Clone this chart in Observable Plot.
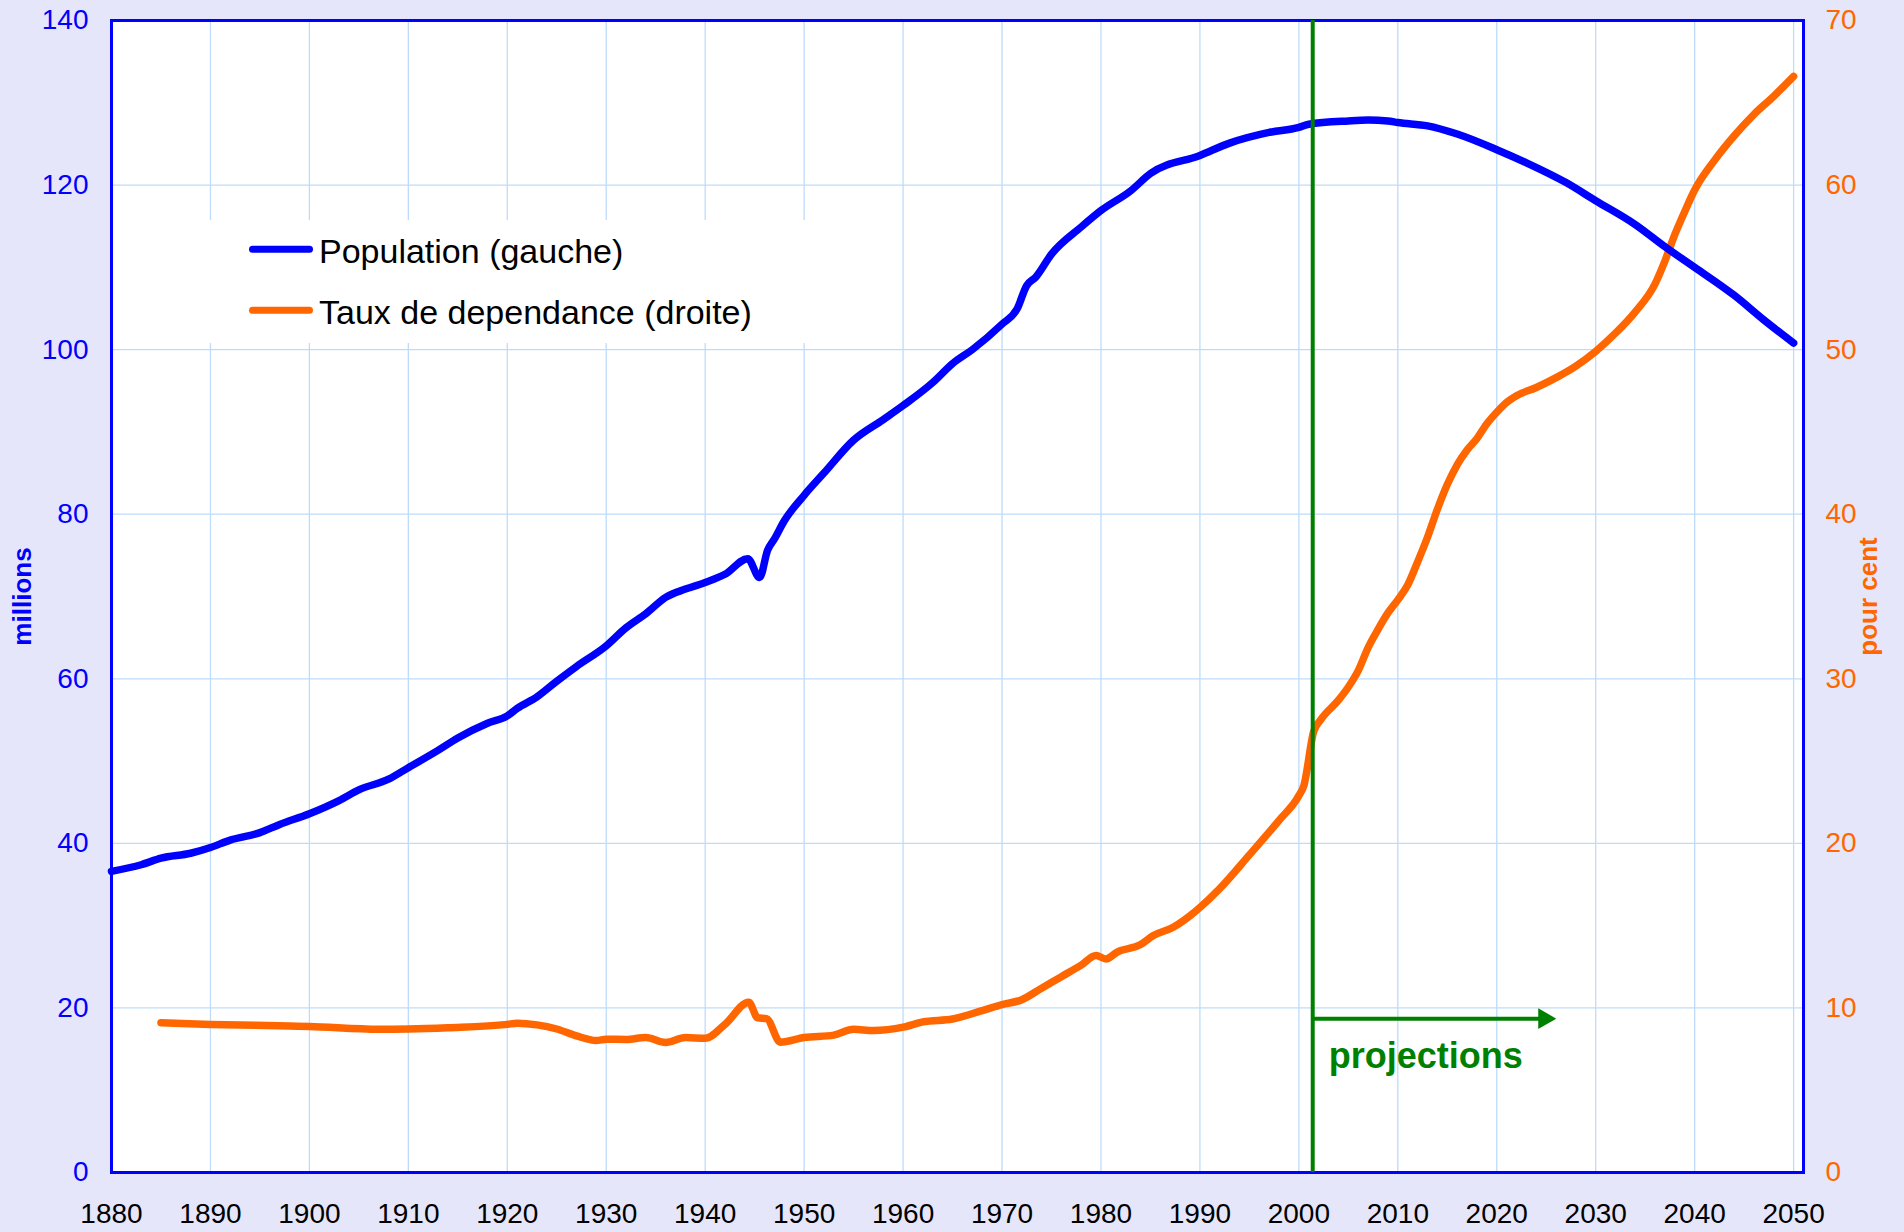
<!DOCTYPE html>
<html><head><meta charset="utf-8">
<script src="https://cdn.jsdelivr.net/npm/d3@7"></script>
<script src="https://cdn.jsdelivr.net/npm/@observablehq/plot@0.6"></script>
<style>
html,body{margin:0;padding:0;background:#E6E6FA;}
#chart{position:relative;width:1904px;height:1232px;font-family:"Liberation Sans",Arial,sans-serif;}
#legend{position:absolute;left:195px;top:220px;width:620px;height:123px;background:#ffffff;}
</style>
</head><body>
<div id="chart"></div>
<script>
// ---- data ----
const popYears = [1880,1883,1885,1888,1890,1892,1895,1897,1900,1903,1905,1908,1910,1913,1915,1918,1920,1921,1923,1925,1927,1930,1932,1934,1936,1938,1940,1942,1944.3,1945.5,1946.3,1947,1948,1950,1952,1955,1958,1960,1963,1965,1967,1970,1971.5,1972.5,1973.4,1975,1978,1980,1983,1985,1990,1993,1997,2000,2001,2005,2007,2009,2010,2013,2016,2020,2023,2027,2030,2034,2037,2040,2044,2047,2050];
const popValues = [36.6,37.4,38.2,38.8,39.5,40.4,41.3,42.3,43.6,45.2,46.5,47.8,49.2,51.3,52.8,54.6,55.5,56.4,57.8,59.7,61.5,64.0,66.2,67.9,69.9,70.9,71.7,72.7,74.6,72.3,75.6,77.0,79.2,82.3,85.0,89.0,91.5,93.2,96.0,98.3,100.0,103.1,104.9,107.8,108.8,111.6,114.9,116.9,119.3,121.4,123.6,125.1,126.4,127.0,127.4,127.8,127.9,127.8,127.6,127.2,126.2,124.3,122.7,120.3,118.1,115.2,112.5,110.0,106.6,103.6,100.8];

const tauxYears = [1885,1890,1898,1900,1907,1910,1914,1920,1921,1923,1925,1927,1929,1930,1932,1934,1936,1938,1940,1942,1944.4,1945.3,1946.2,1947.6,1950,1953,1955,1957,1960,1962,1965,1968,1970,1972,1974,1976,1978,1979.5,1980.5,1981.6,1984,1985.3,1987.3,1989,1990,1992,1995,1998,2000,2000.5,2001.5,2002.2,2004,2005,2006,2007,2008,2009,2010,2011,2012,2013,2014,2015,2016,2017,2018,2019,2020,2021,2022,2024,2026,2028,2030,2032,2034,2036,2037,2038,2039,2040,2042,2044,2046,2048,2050];
const tauxValues = [9.1,9.0,8.9,8.87,8.7,8.72,8.8,9.0,9.07,8.97,8.72,8.3,8.02,8.1,8.08,8.2,7.9,8.2,8.15,9.0,10.35,9.4,9.35,7.92,8.2,8.35,8.7,8.63,8.83,9.15,9.33,9.84,10.2,10.5,11.2,11.9,12.6,13.18,12.98,13.38,13.85,14.4,14.9,15.6,16.1,17.25,19.3,21.4,22.9,23.5,26.8,27.5,28.7,29.5,30.5,31.9,33.0,34.0,34.8,35.7,37.1,38.6,40.3,41.8,43.0,43.9,44.6,45.5,46.2,46.8,47.2,47.7,48.3,49.0,49.9,51.0,52.3,54.0,55.4,57.0,58.4,59.7,61.5,63.0,64.3,65.4,66.6];

const xTicks = [1880,1890,1900,1910,1920,1930,1940,1950,1960,1970,1980,1990,2000,2010,2020,2030,2040,2050];
const leftTicks = [0,20,40,60,80,100,120,140];
const rightTicks = [0,10,20,30,40,50,60,70];
const seriesNames = ["Population (gauche)", "Taux de dependance (droite)"];
const seriesColors = ["#0000FF", "#FF6600"];
const leftLabel = "millions";
const rightLabel = "pour cent";
const projectionStart = 2001.4;
const projectionArrowEnd = 2024.8;
const projectionArrowLevel = 18.7;   // on the left scale
const projectionLabel = "projections";

// ---- derived tables ----
const ratio = leftTicks[leftTicks.length-1] / rightTicks[rightTicks.length-1];
const pop = popYears.map((y,i)=>({year:y, value:popValues[i]}));
const taux = tauxYears.map((y,i)=>({year:y, value:tauxValues[i]*ratio}));
const proj = [{x1:projectionStart, x2:projectionArrowEnd, y:projectionArrowLevel}];

const font = '"Liberation Sans", Arial, sans-serif';
const gridColor = "#BEDCFA";

const plot = Plot.plot({
  width: 1904, height: 1232,
  marginLeft: 111, marginRight: 101, marginTop: 20, marginBottom: 60,
  style: {background: "transparent", fontFamily: font, fontSize: "28px"},
  x: {domain: [1880, 2051], label: null},
  y: {domain: [0, 140], label: null},
  marks: [
    Plot.frame({fill: "#ffffff", stroke: null}),
    Plot.gridX(xTicks, {stroke: gridColor, strokeOpacity: 1, strokeWidth: 1.3}),
    Plot.gridY(leftTicks.slice(1, -1), {stroke: gridColor, strokeOpacity: 1, strokeWidth: 1.3}),
    Plot.frame({stroke: "#0000FF", strokeWidth: 3}),
    Plot.axisX(xTicks, {tickSize: 0, tickPadding: 31, tickFormat: d => String(d), fontSize: 28, color: "#000000", fontFamily: font}),
    Plot.axisY(leftTicks, {anchor: "left", tickSize: 0, tickPadding: 23, fontSize: 28, color: "#0000FF", fontFamily: font}),
    Plot.axisY(leftTicks, {anchor: "right", tickSize: 0, tickPadding: 22, tickFormat: d => String(d / ratio), fontSize: 28, color: "#FF6600", fontFamily: font}),
    Plot.line(taux, {x: "year", y: "value", stroke: seriesColors[1], strokeWidth: 7.5, curve: "monotone-x", strokeLinecap: "round", strokeLinejoin: "round"}),
    Plot.line(pop, {x: "year", y: "value", stroke: seriesColors[0], strokeWidth: 7.5, curve: "monotone-x", strokeLinecap: "round", strokeLinejoin: "round"}),
    Plot.ruleX([projectionStart], {stroke: "#008000", strokeWidth: 4}),
    Plot.link(proj, {x1: "x1", x2: "x2", y1: "y", y2: "y", stroke: "#008000", strokeWidth: 4}),
    Plot.dot(proj, {x: "x2", y: "y", symbol: "triangle", r: 7.7, fill: "#008000", stroke: null, rotate: 90}),
    Plot.text(proj, {x: "x1", y: "y", text: () => projectionLabel, dx: 16, dy: 49, lineAnchor: "bottom", textAnchor: "start", fontSize: 36, fontWeight: "bold", fill: "#008000", fontFamily: font}),
    Plot.text([leftLabel], {frameAnchor: "left", text: d => d, rotate: -90, dx: -89.3, textAnchor: "middle", lineAnchor: "middle", fontSize: 26, fontWeight: "bold", fill: "#0000FF", fontFamily: font}),
    Plot.text([rightLabel], {frameAnchor: "right", text: d => d, rotate: -90, dx: 65, textAnchor: "middle", lineAnchor: "middle", fontSize: 26, fontWeight: "bold", fill: "#FF6600", fontFamily: font})
  ]
});
const chart = document.getElementById("chart");
chart.appendChild(plot);

// ---- legend (inside the plot area, white box) ----
const legend = d3.select(chart).append("div").attr("id", "legend");
const lsvg = legend.append("svg").attr("width", 620).attr("height", 123);
const rows = lsvg.selectAll("g").data(seriesNames).join("g")
  .attr("transform", (d,i) => `translate(0,${29.3 + i*61})`);
rows.append("line").attr("x1", 57.5).attr("x2", 114.5).attr("y1", 0).attr("y2", 0)
  .attr("stroke", (d,i) => seriesColors[i]).attr("stroke-width", 7).attr("stroke-linecap", "round");
rows.append("text").attr("x", 124).attr("y", 13.5).text(d => d)
  .attr("font-family", font).attr("font-size", 34).attr("fill", "#000000");
</script>
</body></html>
